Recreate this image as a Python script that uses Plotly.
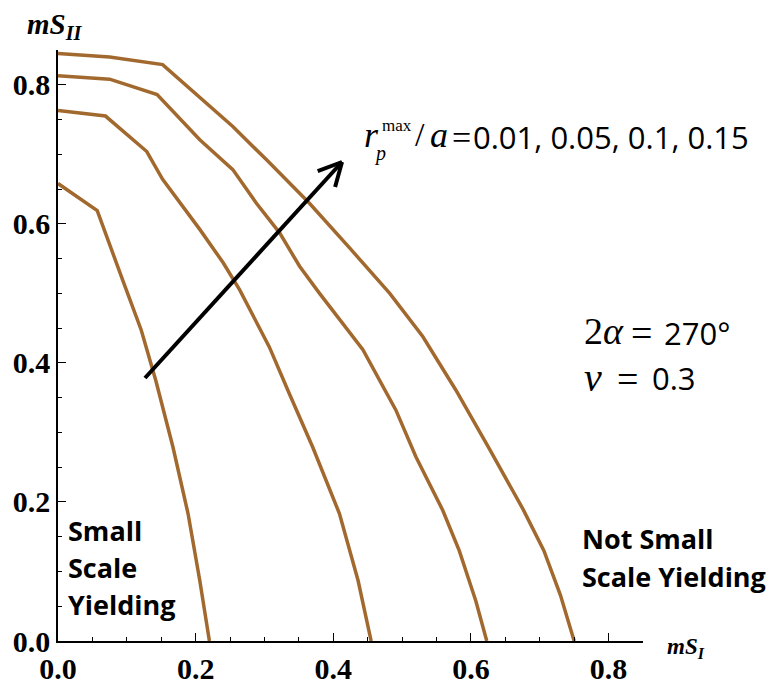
import math
import plotly.graph_objects as go

# ---- data ----
ratios = ["0.01", "0.05", "0.1", "0.15"]

x_001 = [0.0, 0.057, 0.094, 0.121, 0.142, 0.167, 0.189, 0.206, 0.220]
y_001 = [0.658, 0.619, 0.519, 0.447, 0.375, 0.279, 0.183, 0.087, 0.0]

x_005 = [0.0, 0.069, 0.129, 0.152, 0.206, 0.240, 0.264, 0.307, 0.336, 0.370, 0.409, 0.436, 0.455]
y_005 = [0.763, 0.755, 0.704, 0.664, 0.592, 0.544, 0.505, 0.423, 0.356, 0.279, 0.183, 0.087, 0.0]

x_010 = [0.0, 0.075, 0.144, 0.206, 0.254, 0.288, 0.322, 0.351, 0.380, 0.409, 0.443, 0.491, 0.520, 0.559, 0.583, 0.607, 0.623]
y_010 = [0.813, 0.808, 0.786, 0.721, 0.678, 0.630, 0.587, 0.539, 0.500, 0.462, 0.419, 0.332, 0.265, 0.188, 0.130, 0.058, 0.0]

x_015 = [0.0, 0.075, 0.152, 0.215, 0.254, 0.303, 0.365, 0.424, 0.482, 0.530, 0.578, 0.627, 0.676, 0.706, 0.730, 0.750]
y_015 = [0.845, 0.840, 0.829, 0.774, 0.740, 0.692, 0.630, 0.565, 0.500, 0.438, 0.361, 0.276, 0.189, 0.130, 0.066, 0.0]

xs = [x_001, x_005, x_010, x_015]
ys = [y_001, y_005, y_010, y_015]

tick_vals = [0.0, 0.2, 0.4, 0.6, 0.8]
tick_text = ["0.0", "0.2", "0.4", "0.6", "0.8"]

# ---- figure geometry ----
W, H = 777, 684
ML, MR, MT, MB = 58, 134, 50, 43
XR = [0, 0.85]
YR = [0, 0.85]
PW = W - ML - MR
PH = H - MT - MB

BROWN = "#A2692F"
SERIF = "Liberation Serif"
SANS = "Open Sans"

fig = go.Figure()
for r, x, y in zip(ratios, xs, ys):
    fig.add_trace(go.Scatter(x=x, y=y, mode="lines", name=r,
                             line=dict(color=BROWN, width=3.5), showlegend=False))

axis_common = dict(
    showgrid=False, zeroline=False, showline=True, automargin=False,
    linecolor="black", linewidth=1.5, mirror=False,
    ticks="inside", ticklen=8, tickwidth=1, tickcolor="black",
    tickvals=tick_vals, ticktext=tick_text,
    tickfont=dict(family=SERIF, size=30, color="black", weight="bold"),
    minor=dict(dtick=0.05, tick0=0, ticks="inside", ticklen=4,
               tickwidth=1, tickcolor="black", showgrid=False),
)
fig.update_xaxes(**{**axis_common, "range": XR})
fig.update_yaxes(**{**axis_common, "range": YR})

ann = []


def text(px, py, s, family, size, xanchor="left", yanchor="middle", align="left"):
    ann.append(dict(x=(px - ML) / PW, y=(H - MB - py) / PH, xref="paper", yref="paper",
                    text=s, showarrow=False, xanchor=xanchor, yanchor=yanchor,
                    align=align, font=dict(family=family, size=size, color="black")))


# axis titles
text(25, 26, "<b><i>mS</i></b><sub><b><i>II</i></b></sub>", SERIF, 29)
text(665, 648, "<b><i>mS</i></b><sub><b><i>I</i></b></sub>", SERIF, 23)

# r_p^max / a = ...
text(362, 135, "<i>r</i>", SERIF, 36)
text(372, 153, "<i>p</i>", SERIF, 20)
text(380, 125, "max", SERIF, 17)
text(413, 135, "/", SERIF, 34)
text(428, 135, "<i>a</i>", SERIF, 36)
text(450, 137, "=", SERIF, 34)
text(471, 137, "0.01, 0.05, 0.1, 0.15", SANS, 31)

# 2alpha, nu
text(582, 331, "2<i>α</i>", SERIF, 38)
text(629, 333, "=", SERIF, 38)
text(662, 333, "270°", SANS, 31)
text(582, 377, "<i>ν</i>", SERIF, 40)
text(615, 379, "=", SERIF, 38)
text(650, 378, "0.3", SANS, 31)

# regions
for py, s in zip([530, 567, 604], ["Small", "Scale", "Yielding"]):
    text(66, py, "<b>" + s + "</b>", SANS, 27)
for py, s in zip([538, 576], ["Not Small", "Scale Yielding"]):
    text(580, py, "<b>" + s + "</b>", SANS, 27)

fig.update_layout(annotations=ann)

# arrow (black, open head) in pixel-based layout coordinates
def sx(px):
    return XR[0] + (px - ML) / PW * (XR[1] - XR[0])


def sy(py):
    return YR[0] + (H - MB - py) / PH * (YR[1] - YR[0])


x0p, y0p = 145, 378
x1p, y1p = 342, 162
fig.add_shape(type="line", xref="x", yref="y",
              x0=sx(x0p), y0=sy(y0p), x1=sx(x1p), y1=sy(y1p),
              line=dict(color="black", width=4))
ang = math.atan2(y0p - y1p, x0p - x1p)
for d in (math.radians(27), -math.radians(27)):
    ex = x1p + 26 * math.cos(ang + d)
    ey = y1p + 26 * math.sin(ang + d)
    fig.add_shape(type="line", xref="x", yref="y",
                  x0=sx(x1p), y0=sy(y1p), x1=sx(ex), y1=sy(ey),
                  line=dict(color="black", width=4))

fig.update_layout(
    width=W, height=H,
    margin=dict(l=ML, r=MR, t=MT, b=MB),
    paper_bgcolor="white", plot_bgcolor="white",
    showlegend=False,
)

fig.write_html("out.html")
